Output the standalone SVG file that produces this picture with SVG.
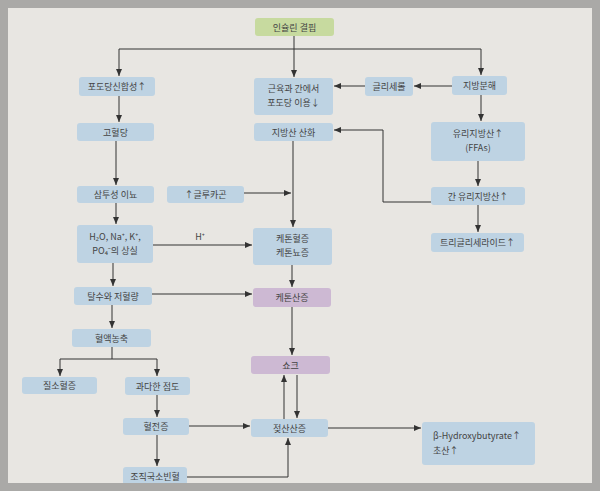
<svg xmlns="http://www.w3.org/2000/svg" width="600" height="491" viewBox="0 0 600 491">
<style>
.b{fill:#bed3e3}
.p{fill:#cdb9d3}
.g{fill:#c7da9f}
text{font-family:"Noto Sans CJK KR","Noto Sans",sans-serif;font-size:9px;fill:#444;text-anchor:middle}
.c line,.c polyline{stroke:#333;stroke-width:1;fill:none}
.c .a{marker-end:url(#ah)}
</style>
<defs>
<marker id="ah" markerUnits="userSpaceOnUse" markerWidth="8" markerHeight="6" refX="7" refY="3" orient="auto">
<path d="M0,0 L7,3 L0,6 Z" fill="#333"/>
</marker>
</defs>
<rect x="0" y="0" width="600" height="491" fill="#e8e6e2"/>

<g id="n1"><rect class="g" x="255" y="18" width="79" height="18" rx="3"/><text x="294.5" y="30.5">인슐린 결핍</text></g>
<g id="n2"><rect class="b" x="79" y="77" width="76" height="19" rx="3"/><text x="117" y="90">포도당신합성↑</text></g>
<g id="n3"><rect class="b" x="254" y="78" width="79" height="37" rx="3"/><text x="293.5" y="92">근육과 간에서</text><text x="293.5" y="106">포도당 이용↓</text></g>
<g id="n4"><rect class="b" x="365" y="77" width="48" height="19" rx="3"/><text x="389" y="90">글리세롤</text></g>
<g id="n5"><rect class="b" x="452" y="76" width="55" height="19" rx="3"/><text x="479.5" y="89">지방분해</text></g>
<g id="n6"><rect class="b" x="77" y="123" width="77" height="18" rx="3"/><text x="115.5" y="135.5">고혈당</text></g>
<g id="n7"><rect class="b" x="254" y="123" width="79" height="18" rx="3"/><text x="293.5" y="135.5">지방산 산화</text></g>
<g id="n8"><rect class="b" x="431" y="122" width="94" height="39" rx="3"/><text x="478" y="137">유리지방산↑</text><text x="478" y="151">(FFAs)</text></g>
<g id="n9"><rect class="b" x="77" y="186" width="77" height="17" rx="3"/><text x="115.5" y="198">삼투성 이뇨</text></g>
<g id="n10"><rect class="b" x="167" y="186" width="77" height="17" rx="3"/><text x="205.5" y="198">↑글루카곤</text></g>
<g id="n11"><rect class="b" x="431" y="187" width="94" height="18" rx="3"/><text x="478" y="199.5">간 유리지방산↑</text></g>
<g id="n12"><rect class="b" x="77" y="225" width="76" height="38" rx="3"/><text x="115" y="240">H₂O, Na⁺, K⁺,</text><text x="115" y="254">PO₄⁻의 상실</text></g>
<g id="n13"><rect class="b" x="253" y="228" width="79" height="37" rx="3"/><text x="292.5" y="242">케톤혈증</text><text x="292.5" y="256">케톤뇨증</text></g>
<g id="n14"><rect class="b" x="431" y="233" width="93" height="19" rx="3"/><text x="477.5" y="246">트리글리세라이드↑</text></g>
<g id="n15"><rect class="b" x="74" y="287" width="78" height="18" rx="3"/><text x="113" y="299.5">탈수와 저혈량</text></g>
<g id="n16"><rect class="p" x="253" y="288" width="78" height="19" rx="3"/><text x="292" y="301">케톤산증</text></g>
<g id="n17"><rect class="b" x="72" y="329" width="79" height="18" rx="3"/><text x="111.5" y="341.5">혈액농축</text></g>
<g id="n18"><rect class="p" x="251" y="356" width="79" height="18" rx="3"/><text x="290.5" y="368.5">쇼크</text></g>
<g id="n19"><rect class="b" x="22" y="377" width="75" height="17" rx="3"/><text x="59.5" y="389">질소혈증</text></g>
<g id="n20"><rect class="b" x="125" y="377" width="65" height="18" rx="3"/><text x="157.5" y="389.5">과다한 점도</text></g>
<g id="n21"><rect class="b" x="123" y="418" width="66" height="17" rx="3"/><text x="156" y="430">혈전증</text></g>
<g id="n22"><rect class="b" x="251" y="419" width="77" height="18" rx="3"/><text x="289.5" y="431.5">젖산산증</text></g>
<g id="n23"><rect class="b" x="123" y="467" width="64" height="18" rx="3"/><text x="155" y="479.5">조직국소빈혈</text></g>
<g id="n24"><rect class="b" x="422" y="422" width="113" height="43" rx="3"/><text x="433" y="439" style="text-anchor:start">β-Hydroxybutyrate↑</text><text x="433" y="454" style="text-anchor:start">초산↑</text></g>

<g class="c">
<line x1="294" y1="36" x2="294" y2="49"/>
<line x1="119" y1="49" x2="481" y2="49"/>
<line class="a" x1="119" y1="49" x2="119" y2="76"/>
<line class="a" x1="294" y1="49" x2="294" y2="77"/>
<line class="a" x1="481" y1="49" x2="481" y2="75"/>
<line class="a" x1="452" y1="86" x2="414" y2="86"/>
<line class="a" x1="365" y1="86" x2="334" y2="86"/>
<line class="a" x1="119" y1="96" x2="119" y2="122"/>
<line class="a" x1="481" y1="95" x2="481" y2="121"/>
<line class="a" x1="116" y1="141" x2="116" y2="185"/>
<line class="a" x1="478" y1="161" x2="478" y2="186"/>
<polyline class="a" points="431,202 383,202 383,130 334,130"/>
<line class="a" x1="293" y1="141" x2="293" y2="227"/>
<line class="a" x1="244" y1="193" x2="291" y2="193"/>
<line class="a" x1="116" y1="203" x2="116" y2="224"/>
<line class="a" x1="478" y1="205" x2="478" y2="232"/>
<line class="a" x1="153" y1="245" x2="252" y2="245"/>
<line class="a" x1="113" y1="263" x2="113" y2="286"/>
<line class="a" x1="292" y1="265" x2="292" y2="287"/>
<line class="a" x1="152" y1="294" x2="252" y2="294"/>
<line class="a" x1="112" y1="305" x2="112" y2="328"/>
<line class="a" x1="292" y1="307" x2="292" y2="355"/>
<line x1="112" y1="347" x2="112" y2="359"/>
<line x1="60" y1="359" x2="157" y2="359"/>
<line class="a" x1="60" y1="359" x2="60" y2="376"/>
<line class="a" x1="157" y1="359" x2="157" y2="376"/>
<line class="a" x1="157" y1="395" x2="157" y2="417"/>
<line class="a" x1="189" y1="426" x2="250" y2="426"/>
<line class="a" x1="157" y1="435" x2="157" y2="466"/>
<polyline class="a" points="187,477 288,477 288,438"/>
<line class="a" x1="284" y1="419" x2="284" y2="375"/>
<line class="a" x1="297" y1="375" x2="297" y2="418"/>
<line class="a" x1="328" y1="428" x2="421" y2="428"/>
</g>
<text x="200" y="240">H⁺</text>

<g id="frame" fill="#aaa9a7">
<rect x="0" y="0" width="600" height="8"/>
<rect x="0" y="483" width="600" height="8"/>
<rect x="0" y="0" width="8" height="491"/>
<rect x="592" y="0" width="8" height="491"/>
</g>
</svg>
